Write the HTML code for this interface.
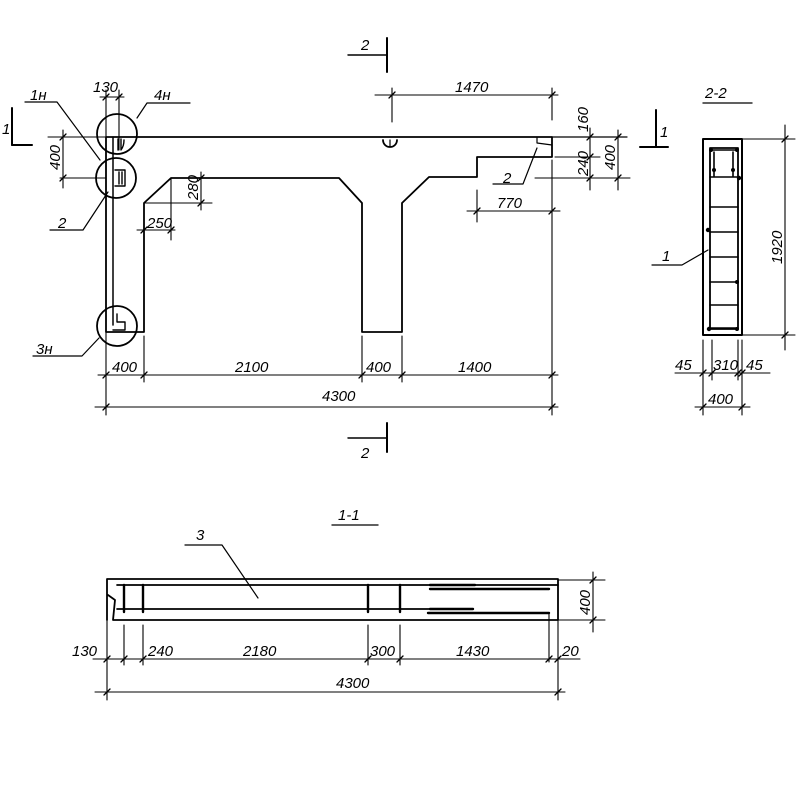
<!DOCTYPE html>
<html><head><meta charset="utf-8"><style>
html,body{margin:0;padding:0;background:#fff;}
svg{display:block}
text{font-family:"Liberation Sans",sans-serif;font-style:italic;font-size:15px;fill:#000}
</style></head><body>
<svg width="800" height="800" viewBox="0 0 800 800" xmlns="http://www.w3.org/2000/svg">
<g stroke="#000" fill="none" stroke-width="1.8" stroke-linecap="round" stroke-linejoin="round">
<path d="M106 137 L552 137 L552 157 L477 157 L477 177 L429 177 L402 203 L402 332 L362 332 L362 203 L339 178 L171 178 L144 203 L144 332 L106 332 Z"/>
<line x1="552" y1="137" x2="627" y2="137" stroke-width="1.2"/>
<line x1="113" y1="137" x2="113" y2="325" stroke-width="1.5"/>
<circle cx="117" cy="134" r="20"/>
<circle cx="116" cy="178" r="20"/>
<circle cx="117" cy="326" r="20"/>
<path d="M118 139 L118 150 M121 139 L121 150 Q124 146 124 140" stroke-width="1.4"/>
<path d="M115 170 L125 170 L125 186 L115 186 M119 172 L119 184 M122 172 L122 184" stroke-width="1.4"/>
<path d="M113 330 L125 330 L125 322 L117 322 L117 314" stroke-width="1.4"/>
<path d="M383 140 A7 7 0 0 0 397 140" />
<line x1="390" y1="140" x2="390" y2="146" stroke-width="1.2"/>
<path d="M537 138 L537 143 L552 145" stroke-width="1.2"/>
<polyline points="25,102 57,102 100,160" stroke-width="1.2"/>
<polyline points="137,118 147,103 190,103" stroke-width="1.2"/>
<polyline points="50,230 83,230 108,192" stroke-width="1.2"/>
<polyline points="33,356 82,356 99,338" stroke-width="1.2"/>
<polyline points="493,184 523,184 537,148" stroke-width="1.2"/>
<polyline points="652,265 682,265 708,250" stroke-width="1.2"/>
<polyline points="185,545 222,545 258,598" stroke-width="1.2"/>
<line x1="12" y1="108" x2="12" y2="145" stroke-width="2"/><line x1="12" y1="145" x2="32" y2="145" stroke-width="2"/>
<line x1="656" y1="110" x2="656" y2="147" stroke-width="2"/><line x1="640" y1="147" x2="668" y2="147" stroke-width="2"/>
<line x1="387" y1="38" x2="387" y2="72" stroke-width="2"/><line x1="348" y1="55" x2="386" y2="55" stroke-width="1.4"/>
<line x1="387" y1="423" x2="387" y2="452" stroke-width="2"/><line x1="348" y1="438" x2="386" y2="438" stroke-width="1.4"/>
<g stroke-width="1.1">
<line x1="98" y1="375" x2="558" y2="375"/>
<line x1="95" y1="407" x2="558" y2="407"/>
<line x1="106" y1="332" x2="106" y2="415"/>
<line x1="144" y1="336" x2="144" y2="382"/>
<line x1="362" y1="336" x2="362" y2="382"/>
<line x1="402" y1="336" x2="402" y2="382"/>
<line x1="552" y1="160" x2="552" y2="415"/>
<line x1="100" y1="97" x2="124" y2="97"/>
<line x1="106" y1="90" x2="106" y2="137"/>
<line x1="119" y1="90" x2="119" y2="150"/>
<line x1="48" y1="137" x2="106" y2="137"/>
<line x1="60" y1="178" x2="106" y2="178"/>
<line x1="63" y1="130" x2="63" y2="188"/>
<line x1="137" y1="230" x2="175" y2="230"/>
<line x1="171" y1="178" x2="171" y2="240"/>
<line x1="144" y1="203" x2="212" y2="203"/>
<line x1="201" y1="172" x2="201" y2="210"/>
<line x1="375" y1="95" x2="558" y2="95"/>
<line x1="392" y1="88" x2="392" y2="122"/>
<line x1="552" y1="88" x2="552" y2="120"/>
<line x1="555" y1="157" x2="600" y2="157"/>
<line x1="535" y1="178" x2="630" y2="178"/>
<line x1="590" y1="128" x2="590" y2="190"/>
<line x1="618" y1="130" x2="618" y2="190"/>
<line x1="467" y1="211" x2="560" y2="211"/>
<line x1="477" y1="190" x2="477" y2="222"/>
</g>
<g stroke-width="1.3">
<path d="M103 378 L109 372 M141 378 L147 372 M359 378 L365 372 M399 378 L405 372 M549 378 L555 372"/>
<path d="M103 410 L109 404 M549 410 L555 404"/>
<path d="M103 100 L109 94 M116 100 L122 94"/>
<path d="M60 140 L66 134 M60 181 L66 175"/>
<path d="M141 233 L147 227 M168 233 L174 227"/>
<path d="M198 181 L204 175 M198 206 L204 200"/>
<path d="M389 98 L395 92 M549 98 L555 92"/>
<path d="M587 140 L593 134 M587 160 L593 154 M587 181 L593 175 M615 140 L621 134 M615 181 L621 175"/>
<path d="M474 214 L480 208 M549 214 L555 208"/>
</g>
<rect x="703" y="139" width="39" height="196" stroke-width="2"/>
<rect x="710" y="148" width="28" height="181" stroke-width="1.8"/>
<g stroke-width="1.6">
<line x1="710" y1="150" x2="738" y2="150"/><line x1="710" y1="177" x2="738" y2="177"/>
<line x1="710" y1="207" x2="738" y2="207"/><line x1="710" y1="232" x2="738" y2="232"/>
<line x1="710" y1="257" x2="738" y2="257"/><line x1="710" y1="282" x2="738" y2="282"/>
<line x1="710" y1="305" x2="738" y2="305"/><line x1="710" y1="328" x2="738" y2="328"/>
<line x1="714" y1="152" x2="714" y2="176"/><line x1="733" y1="152" x2="733" y2="176"/>
</g>
<g fill="#000" stroke="none">
<circle cx="711" cy="150" r="2"/><circle cx="737" cy="150" r="2"/><circle cx="714" cy="170" r="2"/><circle cx="733" cy="170" r="2"/>
<circle cx="739" cy="178" r="2.2"/><circle cx="708" cy="230" r="2.2"/><circle cx="737" cy="282" r="2"/><circle cx="709" cy="329" r="2.2"/><circle cx="737" cy="329" r="2"/>
</g>
<line x1="703" y1="103" x2="752" y2="103" stroke-width="1.3"/>
<g stroke-width="1.1">
<line x1="742" y1="139" x2="795" y2="139"/><line x1="742" y1="335" x2="795" y2="335"/>
<line x1="785" y1="125" x2="785" y2="350"/>
<line x1="675" y1="373" x2="770" y2="373"/><line x1="695" y1="407" x2="750" y2="407"/>
<line x1="703" y1="340" x2="703" y2="415"/><line x1="712" y1="340" x2="712" y2="380"/>
<line x1="738" y1="340" x2="738" y2="380"/><line x1="742" y1="340" x2="742" y2="415"/>
</g>
<g stroke-width="1.3">
<path d="M782 142 L788 136 M782 338 L788 332 M700 376 L706 370 M709 376 L715 370 M735 376 L741 370 M739 376 L745 370 M700 410 L706 404 M739 410 L745 404"/>
</g>
<path d="M107 620 L107 579 L558 579 L558 620 L113 620 L115 600 L108 595" stroke-width="1.8"/>
<line x1="117" y1="585" x2="558" y2="585" stroke-width="1.7"/>
<line x1="117" y1="609" x2="430" y2="609" stroke-width="1.7"/>
<g stroke-width="2.4">
<line x1="124" y1="585" x2="124" y2="612"/><line x1="143" y1="585" x2="143" y2="612"/>
<line x1="368" y1="585" x2="368" y2="612"/><line x1="400" y1="585" x2="400" y2="612"/>
<line x1="430" y1="585" x2="475" y2="585"/><line x1="430" y1="589" x2="549" y2="589"/>
<line x1="430" y1="609" x2="473" y2="609"/><line x1="428" y1="613" x2="549" y2="613"/>
</g>
<line x1="549" y1="613" x2="549" y2="662" stroke-width="1.1"/>
<line x1="332" y1="525" x2="378" y2="525" stroke-width="1.3"/>
<g stroke-width="1.1">
<line x1="558" y1="580" x2="605" y2="580"/><line x1="558" y1="620" x2="605" y2="620"/>
<line x1="593" y1="572" x2="593" y2="632"/>
<line x1="93" y1="659" x2="580" y2="659"/><line x1="95" y1="692" x2="565" y2="692"/>
<line x1="107" y1="620" x2="107" y2="700"/><line x1="124" y1="625" x2="124" y2="665"/>
<line x1="143" y1="625" x2="143" y2="665"/><line x1="368" y1="625" x2="368" y2="665"/>
<line x1="400" y1="625" x2="400" y2="665"/><line x1="558" y1="620" x2="558" y2="700"/>
</g>
<g stroke-width="1.3">
<path d="M590 583 L596 577 M590 623 L596 617 M104 662 L110 656 M121 662 L127 656 M140 662 L146 656 M365 662 L371 656 M397 662 L403 656 M546 662 L552 656 M555 662 L561 656 M104 695 L110 689 M555 695 L561 689"/>
</g>
</g>
<text x="30" y="100">1н</text>
<text x="93" y="92">130</text>
<text x="154" y="100">4н</text>
<text x="2" y="134">1</text>
<text x="58" y="228">2</text>
<text x="36" y="354">3н</text>
<text x="361" y="50">2</text>
<text x="361" y="458">2</text>
<text x="147" y="228" font-size="12">250</text>
<text x="112" y="372">400</text>
<text x="235" y="372">2100</text>
<text x="366" y="372">400</text>
<text x="458" y="372">1400</text>
<text x="322" y="401">4300</text>
<text x="455" y="92">1470</text>
<text x="503" y="183">2</text>
<text x="497" y="208">770</text>
<text x="660" y="137">1</text>
<text x="705" y="98">2-2</text>
<text x="662" y="261">1</text>
<text x="675" y="370">45</text>
<text x="713" y="370">310</text>
<text x="746" y="370">45</text>
<text x="708" y="404">400</text>
<text x="338" y="520">1-1</text>
<text x="196" y="540">3</text>
<text x="72" y="656">130</text>
<text x="148" y="656">240</text>
<text x="243" y="656">2180</text>
<text x="370" y="656">300</text>
<text x="456" y="656">1430</text>
<text x="562" y="656">20</text>
<text x="336" y="688">4300</text>
<g font-size="12">
<text transform="translate(60,170) rotate(-90)">400</text>
<text transform="translate(198,200) rotate(-90)">280</text>
<text transform="translate(588,132) rotate(-90)">160</text>
<text transform="translate(588,176) rotate(-90)">240</text>
<text transform="translate(615,170) rotate(-90)" font-size="14">400</text>
<text transform="translate(782,264) rotate(-90)" font-size="14">1920</text>
<text transform="translate(590,615) rotate(-90)" font-size="13">400</text>
</g>
</svg>
</body></html>
